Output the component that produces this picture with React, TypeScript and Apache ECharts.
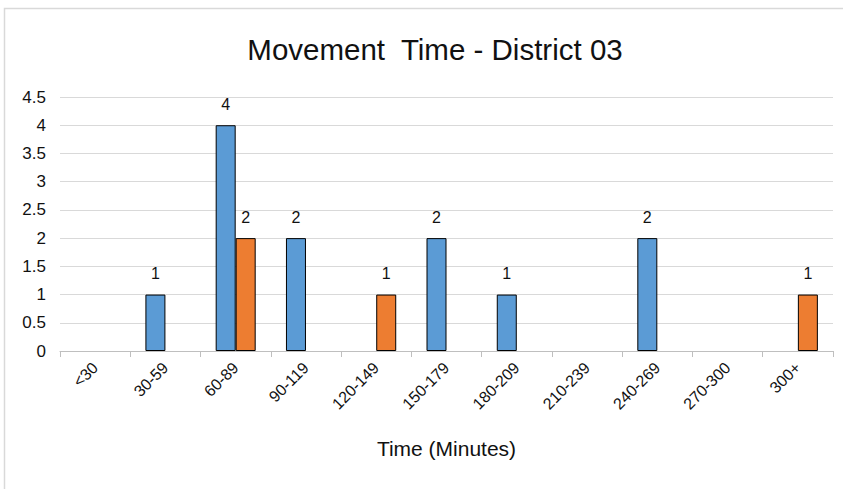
import React, { useEffect, useRef } from "react";
import * as echarts from "echarts";

const categories = ["<30", "30-59", "60-89", "90-119", "120-149", "150-179", "180-209", "210-239", "240-269", "270-300", "300+"];
const seriesA = [null, 1, 4, 2, null, 2, 1, null, 2, null, null];
const seriesB = [null, null, 2, null, 1, null, null, null, null, null, 1];
const titleText = "Movement  Time - District 03";
const xName = "Time (Minutes)";

export default function App() {
  const ref = useRef<HTMLDivElement>(null);
  useEffect(() => {
    const chart = echarts.init(ref.current!, null, { renderer: "svg" });
    const font = "Liberation Sans, Arial, sans-serif";
    const label = { show: true, position: "top", color: "#111", fontSize: 16, fontFamily: font, distance: 13 };
    chart.setOption({
      animation: false,
      backgroundColor: "#fff",
      title: {
        text: titleText,
        left: 430,
        textAlign: "center",
        top: 29,
        textStyle: { fontFamily: font, fontSize: 29.5, fontWeight: "normal", color: "#111" },
      },
      graphic: [
        { type: "rect", shape: { x: 4.5, y: 8.5, width: 860, height: 500 }, style: { fill: "none", stroke: "#d9d9d9", lineWidth: 1.5 }, silent: true },
      ],
      grid: { left: 60, right: 10, top: 97, bottom: 138 },
      xAxis: {
        type: "category",
        data: categories,
        name: xName,
        nameLocation: "middle",
        nameGap: 87,
        nameTextStyle: { fontFamily: font, fontSize: 21, color: "#111" },
        axisLine: { lineStyle: { color: "#bfbfbf", width: 1 } },
        axisTick: { show: true, alignWithLabel: false, length: 6, lineStyle: { color: "#bfbfbf" } },
        axisLabel: { rotate: 45, fontFamily: font, fontSize: 16, color: "#111", margin: 14, interval: 0 },
      },
      yAxis: {
        type: "value",
        min: 0,
        max: 4.5,
        interval: 0.5,
        axisLine: { show: false },
        axisTick: { show: false },
        splitLine: { lineStyle: { color: "#d9d9d9", width: 1 } },
        axisLabel: { fontFamily: font, fontSize: 17, color: "#111", margin: 14 },
      },
      series: [
        {
          type: "bar",
          data: seriesA,
          barWidth: 20,
          barGap: "0%",
          itemStyle: { color: "#5b9bd5", borderColor: "#000", borderWidth: 1 },
          label,
        },
        {
          type: "bar",
          data: seriesB,
          barWidth: 20,
          itemStyle: { color: "#ed7d31", borderColor: "#000", borderWidth: 1 },
          label,
        },
      ],
    });
    return () => chart.dispose();
  }, []);
  return <div ref={ref} style={{ position: "fixed", left: 0, top: 0, width: 843, height: 489 }} />;
}
